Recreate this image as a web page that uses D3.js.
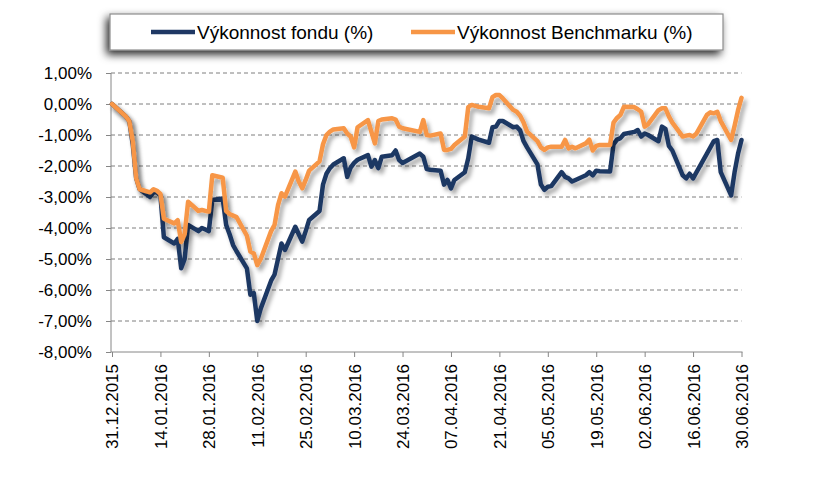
<!DOCTYPE html>
<html><head><meta charset="utf-8">
<script src="https://cdn.jsdelivr.net/npm/d3@7"></script>
<style>
html,body{margin:0;padding:0;background:#fff;}
svg{display:block;}
</style></head>
<body>
<script>
const dates = ["31.12.2015","04.01.2016","05.01.2016","06.01.2016","07.01.2016","08.01.2016","11.01.2016","12.01.2016","13.01.2016","14.01.2016","15.01.2016","18.01.2016","19.01.2016","20.01.2016","21.01.2016","22.01.2016","25.01.2016","26.01.2016","27.01.2016","28.01.2016","29.01.2016","01.02.2016","02.02.2016","03.02.2016","04.02.2016","05.02.2016","08.02.2016","09.02.2016","10.02.2016","11.02.2016","12.02.2016","15.02.2016","16.02.2016","17.02.2016","18.02.2016","19.02.2016","22.02.2016","23.02.2016","24.02.2016","25.02.2016","26.02.2016","29.02.2016","01.03.2016","02.03.2016","03.03.2016","04.03.2016","07.03.2016","08.03.2016","09.03.2016","10.03.2016","11.03.2016","14.03.2016","15.03.2016","16.03.2016","17.03.2016","18.03.2016","21.03.2016","22.03.2016","23.03.2016","24.03.2016","29.03.2016","30.03.2016","31.03.2016","01.04.2016","04.04.2016","05.04.2016","06.04.2016","07.04.2016","08.04.2016","11.04.2016","12.04.2016","13.04.2016","14.04.2016","15.04.2016","18.04.2016","19.04.2016","20.04.2016","21.04.2016","22.04.2016","25.04.2016","26.04.2016","27.04.2016","28.04.2016","29.04.2016","02.05.2016","03.05.2016","04.05.2016","05.05.2016","06.05.2016","09.05.2016","10.05.2016","11.05.2016","12.05.2016","13.05.2016","16.05.2016","17.05.2016","18.05.2016","19.05.2016","20.05.2016","23.05.2016","24.05.2016","25.05.2016","26.05.2016","27.05.2016","30.05.2016","31.05.2016","01.06.2016","02.06.2016","03.06.2016","06.06.2016","07.06.2016","08.06.2016","09.06.2016","10.06.2016","13.06.2016","14.06.2016","15.06.2016","16.06.2016","17.06.2016","20.06.2016","21.06.2016","22.06.2016","23.06.2016","24.06.2016","27.06.2016","28.06.2016","29.06.2016","30.06.2016"];

const fund = [0,-0.40,-0.55,-1.30,-2.40,-2.75,-3.00,-2.85,-2.85,-2.95,-4.30,-4.50,-4.35,-5.30,-5.00,-3.90,-4.10,-4.00,-4.05,-4.10,-3.10,-3.05,-3.90,-4.20,-4.55,-4.75,-5.30,-6.15,-6.10,-7.00,-6.60,-5.70,-5.50,-5.00,-4.50,-4.71,-3.96,-4.20,-4.44,-4.10,-3.74,-3.45,-2.60,-2.25,-2.07,-1.95,-1.75,-2.35,-2.05,-1.90,-1.80,-1.65,-2.02,-1.81,-2.07,-1.70,-1.65,-1.50,-1.81,-1.90,-1.60,-1.70,-2.10,-2.12,-2.15,-2.60,-2.45,-2.72,-2.45,-2.20,-1.75,-1.05,-1.10,-1.15,-1.25,-0.75,-0.73,-0.55,-0.55,-0.75,-0.73,-0.85,-1.20,-1.40,-1.95,-2.60,-2.77,-2.67,-2.65,-2.20,-2.35,-2.40,-2.50,-2.45,-2.30,-2.20,-2.30,-2.15,-2.17,-2.18,-1.30,-1.15,-1.10,-0.97,-0.90,-0.84,-1.05,-0.95,-1.00,-1.20,-0.73,-0.80,-1.35,-1.50,-2.30,-2.40,-2.25,-2.40,-2.20,-1.60,-1.40,-1.20,-1.16,-2.20,-2.95,-2.20,-1.60,-1.16];

const bench = [0,-0.40,-0.55,-1.20,-2.40,-2.75,-2.85,-2.75,-2.80,-2.90,-3.70,-3.85,-3.75,-4.45,-4.20,-3.15,-3.45,-3.42,-3.45,-3.47,-2.30,-2.38,-3.45,-3.55,-3.60,-3.65,-4.25,-4.76,-4.82,-5.20,-5.00,-4.10,-3.90,-3.26,-2.88,-2.99,-2.18,-2.50,-2.72,-2.45,-2.15,-1.85,-1.30,-1.00,-0.89,-0.82,-0.78,-0.95,-1.05,-1.40,-0.75,-0.52,-0.90,-1.27,-0.55,-0.50,-0.46,-0.50,-0.73,-0.78,-0.90,-0.52,-1.00,-1.02,-0.95,-1.48,-1.48,-1.45,-1.32,-1.05,-0.10,-0.03,-0.06,-0.09,-0.14,0.22,0.29,0.29,0.18,-0.19,-0.25,-0.38,-0.60,-0.89,-1.20,-1.40,-1.48,-1.40,-1.38,-1.38,-1.16,-1.43,-1.38,-1.43,-1.27,-1.15,-1.50,-1.35,-1.32,-1.32,-0.60,-0.45,-0.35,-0.09,-0.10,-0.17,-0.25,-0.73,-0.65,-0.20,-0.14,-0.14,-0.40,-0.60,-1.05,-1.02,-1.00,-1.05,-0.95,-0.35,-0.27,-0.30,-0.25,-0.55,-1.16,-0.70,-0.20,0.20];

const xTickLabels = ["31.12.2015","14.01.2016","28.01.2016","11.02.2016","25.02.2016","10.03.2016","24.03.2016","07.04.2016","21.04.2016","05.05.2016","19.05.2016","02.06.2016","16.06.2016","30.06.2016"];
const yTicks = [1,0,-1,-2,-3,-4,-5,-6,-7,-8];
const seriesNames = ["Výkonnost fondu (%)","Výkonnost Benchmarku (%)"];
const seriesColors = ["#1F3864","#F79646"];

const W = 834, H = 481;
const parse = d3.timeParse("%d.%m.%Y");
const fmt = d3.timeFormat("%d.%m.%Y");
const plot = {left:111, right:741.5, top:73, bottom:352};

const svg = d3.select("body").append("svg").attr("width",W).attr("height",H);
const defs = svg.append("defs");
const sh = defs.append("filter").attr("id","lineShadow").attr("x","-10%").attr("y","-10%").attr("width","120%").attr("height","130%");
sh.append("feDropShadow").attr("dx",3).attr("dy",4).attr("stdDeviation",2).attr("flood-color","#000").attr("flood-opacity",0.35);
const lsh = defs.append("filter").attr("id","legShadow").attr("x","-10%").attr("y","-60%").attr("width","120%").attr("height","260%");
lsh.append("feDropShadow").attr("dx",-3).attr("dy",4).attr("stdDeviation",4).attr("flood-color","#000").attr("flood-opacity",0.85);

const x = d3.scaleTime().domain([parse(xTickLabels[0]), parse(xTickLabels[xTickLabels.length-1])]).range([plot.left+1, plot.right]);
const y = d3.scaleLinear().domain([-8,1]).range([plot.bottom, plot.top]);

// gridlines
svg.append("g").selectAll("line").data(yTicks.filter(v=>v!==-8)).join("line")
  .attr("x1",plot.left).attr("x2",plot.right).attr("y1",d=>y(d)).attr("y2",d=>y(d))
  .attr("stroke","#7f7f7f").attr("stroke-width",1).attr("stroke-dasharray","4,3");

// y axis
const yAxis = svg.append("g").attr("transform",`translate(${plot.left},0)`)
  .call(d3.axisLeft(y).tickValues(yTicks).tickSize(5).tickFormat(d=>d3.format(".2f")(d).replace("−","-").replace(".",",")+"%"));
yAxis.select(".domain").attr("stroke","#868686").attr("d",`M0,${plot.top}V${plot.bottom}`);
yAxis.selectAll(".tick line").attr("stroke","#868686");
yAxis.selectAll(".tick text").attr("font-family","Liberation Sans, Arial, sans-serif").attr("font-size",17).attr("fill","#000").attr("x",-19);

// x axis
const xAxis = svg.append("g").attr("transform",`translate(0,${plot.bottom})`)
  .call(d3.axisBottom(x).tickValues(xTickLabels.map(parse)).tickSize(5).tickFormat(fmt));
xAxis.select(".domain").attr("stroke","#868686").attr("d",`M${plot.left},0H${plot.right+1}`);
xAxis.selectAll(".tick line").attr("stroke","#868686");
xAxis.selectAll(".tick text").attr("font-family","Liberation Sans, Arial, sans-serif").attr("font-size",17).attr("fill","#000")
  .attr("transform","rotate(-90)").attr("text-anchor","end").attr("x",-12).attr("y",0).attr("dy","0.35em");

// lines
const pts = dates.map(parse);
const line = d3.line().x((d,i)=>x(pts[i])).y(d=>y(d)).curve(d3.curveLinear);
[fund, bench].forEach((s,k)=>{
  svg.append("path").datum(s).attr("d",line).attr("fill","none")
    .attr("stroke",seriesColors[k]).attr("stroke-width",4.5).attr("stroke-linejoin","round").attr("stroke-linecap","round")
    .attr("filter","url(#lineShadow)");
});

// legend
const leg = svg.append("g");
leg.append("rect").attr("x",110).attr("y",14).attr("width",613).attr("height",36)
  .attr("fill","#fff").attr("stroke","#8c8c8c").attr("stroke-width",1.2).attr("filter","url(#legShadow)");
const legItems = [{x:151, tx:197},{x:411, tx:457}];
legItems.forEach((it,k)=>{
  leg.append("line").attr("x1",it.x).attr("x2",it.x+44).attr("y1",32).attr("y2",32)
    .attr("stroke",seriesColors[k]).attr("stroke-width",4.5);
  leg.append("text").attr("x",it.tx).attr("y",32).attr("dy","0.35em")
    .attr("font-family","Liberation Sans, Arial, sans-serif").attr("font-size",19).attr("fill","#000")
    .text(seriesNames[k]);
});
</script>
</body></html>
